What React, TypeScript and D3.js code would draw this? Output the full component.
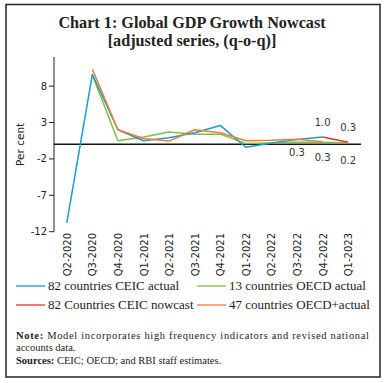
import React from "react";
import * as d3 from "d3";

const categories = ["Q2-2020","Q3-2020","Q4-2020","Q1-2021","Q2-2021","Q3-2021","Q4-2021","Q1-2022","Q2-2022","Q3-2022","Q4-2022","Q1-2023"];
const ceicActual: (number|null)[] = [-10.8, 9.6, 2.0, 0.5, 0.9, 1.6, 2.6, -0.4, 0.2, 0.65, 1.0, null];
const ceicNowcast: (number|null)[] = [null, null, null, null, null, null, null, null, null, null, 1.0, 0.3];
const oecdActual: (number|null)[] = [null, 9.5, 0.5, 1.0, 1.7, 1.4, 1.4, 0.1, 0.2, 0.3, 0.3, 0.2];
const oecdPlus: (number|null)[] = [null, 10.3, 2.0, 0.8, 0.45, 2.0, 1.6, 0.5, 0.55, 0.7, 0.35, null];
const yTicks = [8, 3, -2, -7, -12];
const valueLabels = [
  { cat: "Q4-2022", value: 1.0, text: "1.0", pos: "above" },
  { cat: "Q1-2023", value: 0.3, text: "0.3", pos: "above" },
  { cat: "Q3-2022", value: 0.3, text: "0.3", pos: "below" },
  { cat: "Q4-2022", value: 0.3, text: "0.3", pos: "below2" },
  { cat: "Q1-2023", value: 0.2, text: "0.2", pos: "below3" },
];

const series = [
  { name: "82 countries CEIC actual", data: ceicActual, color: "#1b9ad6" },
  { name: "13 countries OECD actual", data: oecdActual, color: "#7cc142" },
  { name: "82 Countries CEIC nowcast", data: ceicNowcast, color: "#e8332f" },
  { name: "47 countries OECD+actual", data: oecdPlus, color: "#f47c30" },
];
const drawOrder = [1, 0, 3, 2];

export default function App() {
  const x = d3.scalePoint<string>().domain(categories).range([54, 361]).padding(0.5);
  const y = d3.scaleLinear().domain([-12, 12]).range([231.7, 57]);
  const line = d3.line<number | null>()
    .defined((d) => d !== null)
    .x((_, i) => x(categories[i]) as number)
    .y((d) => y(d as number));
  const serif = "'Liberation Serif', 'DejaVu Serif', serif";
  const sans = "'DejaVu Sans', 'Liberation Sans', sans-serif";
  const offsets: Record<string, number> = { above: -11, below: 14, below2: 19, below3: 21 };
  return (
    <svg width={385} height={383} style={{ position: "absolute", left: 0, top: 0, background: "#fff" }}>
      <rect x={6} y={4.5} width={374} height={372.5} fill="#fff" stroke="#222" strokeWidth={1.5} />
      <text x={192} y={28} textAnchor="middle" fontFamily={serif} fontWeight="bold" fontSize={16.2} fill="#222">Chart 1: Global GDP Growth Nowcast</text>
      <text x={192} y={46} textAnchor="middle" fontFamily={serif} fontWeight="bold" fontSize={16.2} fill="#222">[adjusted series, (q-o-q)]</text>
      {/* y axis */}
      <line x1={54} x2={54} y1={y(12)} y2={y(-12)} stroke="#222" strokeWidth={1} />
      {yTicks.map((t) => (
        <g key={t}>
          <line x1={49} x2={54} y1={y(t)} y2={y(t)} stroke="#222" strokeWidth={1} />
          <text x={47} y={y(t)} dy="0.35em" textAnchor="end" fontFamily={sans} fontSize={10} fill="#222">{t}</text>
        </g>
      ))}
      <text transform={`translate(24,${y(0)}) rotate(-90)`} textAnchor="middle" fontFamily={sans} fontSize={10.5} fill="#222">Per cent</text>
      {/* zero line */}
      <line x1={54} x2={361} y1={y(0)} y2={y(0)} stroke="#111" strokeWidth={1.5} />
      {/* x labels */}
      {categories.map((c) => (
        <text key={c} transform={`translate(${(x(c) as number) + 4},233) rotate(-90)`} textAnchor="end" fontFamily={sans} fontSize={10} fill="#222">{c}</text>
      ))}
      {drawOrder.map((i) => (
        <path key={series[i].name} d={line(series[i].data) || ""} fill="none" stroke={series[i].color} strokeWidth={1.5} strokeLinejoin="round" />
      ))}
      {valueLabels.map((l, i) => (
        <text key={i} x={x(l.cat) as number} y={y(l.value) + offsets[l.pos]} textAnchor="middle" fontFamily={sans} fontSize={10} fill="#333">{l.text}</text>
      ))}
      {/* legend */}
      {series.map((s, i) => {
        const lx = i % 2 === 0 ? 16 : 197;
        const ly = i < 2 ? 286 : 305;
        return (
          <g key={s.name}>
            <line x1={lx} x2={lx + 29} y1={ly} y2={ly} stroke={s.color} strokeWidth={1.3} />
            <text x={lx + 32} y={ly} dy="0.33em" fontFamily={serif} fontSize={13} fill="#222">{s.name}</text>
          </g>
        );
      })}
      <text x={16} y={339} fontFamily={serif} fontSize={10.5} fill="#222" textLength={353} lengthAdjust="spacing">
        <tspan fontWeight="bold">Note:</tspan> Model incorporates high frequency indicators and revised national
      </text>
      <text x={16} y={351} fontFamily={serif} fontSize={10.5} fill="#222">accounts data.</text>
      <text x={16} y={364} fontFamily={serif} fontSize={10.5} fill="#222">
        <tspan fontWeight="bold">Sources:</tspan> CEIC; OECD; and RBI staff estimates.
      </text>
    </svg>
  );
}
